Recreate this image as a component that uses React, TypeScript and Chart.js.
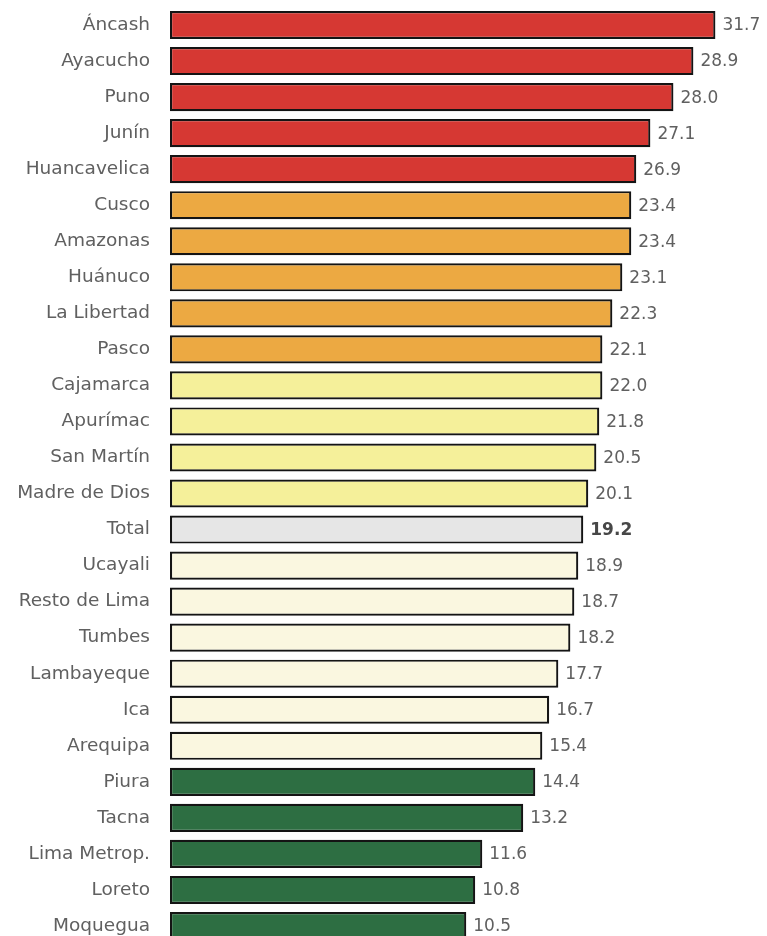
import React, { useEffect, useRef } from "react";
import { Chart, registerables } from "chart.js";

Chart.register(...registerables);

const regions: string[] = [
  "Áncash", "Ayacucho", "Puno", "Junín", "Huancavelica", "Cusco", "Amazonas",
  "Huánuco", "La Libertad", "Pasco", "Cajamarca", "Apurímac", "San Martín",
  "Madre de Dios", "Total", "Ucayali", "Resto de Lima", "Tumbes", "Lambayeque",
  "Ica", "Arequipa", "Piura", "Tacna", "Lima Metrop.", "Loreto", "Moquegua",
];

// Printed values (labels at the end of each bar)
const valueLabels: string[] = [
  "31.7", "28.9", "28.0", "27.1", "26.9", "23.4", "23.4", "23.1", "22.3", "22.1",
  "22.0", "21.8", "20.5", "20.1", "19.2", "18.9", "18.7", "18.2", "17.7", "16.7",
  "15.4", "14.4", "13.2", "11.6", "10.8", "10.5",
];

// Bar lengths as drawn in the picture (in the unit of the top bar, 31.7)
const barLengths: number[] = [
  31.7, 30.42, 29.26, 27.92, 27.1, 26.81, 26.81, 26.29, 25.71, 25.13,
  25.13, 24.95, 24.78, 24.31, 24.02, 23.73, 23.5, 23.27, 22.57, 22.04,
  21.64, 21.23, 20.53, 18.15, 17.74, 17.22,
];

// Colour group of each bar
const groups: string[] = [
  "high", "high", "high", "high", "high",
  "mid", "mid", "mid", "mid", "mid",
  "low", "low", "low", "low",
  "total",
  "lower", "lower", "lower", "lower", "lower", "lower",
  "lowest", "lowest", "lowest", "lowest", "lowest",
];

const groupColors: Record<string, string> = {
  high: "#D63833",
  mid: "#ECA942",
  low: "#F5F09A",
  total: "#E6E6E6",
  lower: "#FAF7E0",
  lowest: "#2D6E42",
};

const FONT = "'DejaVu Sans', sans-serif";

export default function App() {
  const ref = useRef<HTMLCanvasElement | null>(null);

  useEffect(() => {
    if (!ref.current) return;
    const valueLabelPlugin = {
      id: "valueLabels",
      afterDatasetsDraw(chart: any) {
        const ctx = chart.ctx;
        const meta = chart.getDatasetMeta(0);
        ctx.save();
        ctx.textBaseline = "middle";
        ctx.textAlign = "left";
        meta.data.forEach((bar: any, i: number) => {
          const isTotal = regions[i] === "Total";
          ctx.font = `${isTotal ? "bold " : ""}17px ${FONT}`;
          ctx.fillStyle = isTotal ? "#474747" : "#606060";
          ctx.fillText(valueLabels[i], bar.x + 7, bar.y + 1);
        });
        ctx.restore();
      },
    };

    const chart = new Chart(ref.current, {
      type: "bar",
      data: {
        labels: regions,
        datasets: [
          {
            data: barLengths,
            backgroundColor: groups.map((g) => groupColors[g]),
            borderColor: "#141414",
            borderWidth: 2.2,
            borderSkipped: false,
            categoryPercentage: 1,
            barPercentage: 0.78,
          },
        ],
      },
      options: {
        indexAxis: "y",
        animation: false,
        responsive: false,
        maintainAspectRatio: false,
        layout: { padding: { top: 7, right: 12, bottom: 0, left: 0 } },
        plugins: {
          legend: { display: false },
          tooltip: { enabled: false },
        },
        scales: {
          x: {
            display: false,
            min: 0,
            max: 34,
          },
          y: {
            grid: { display: false, drawTicks: false },
            border: { display: false },
            ticks: {
              color: "#606060",
              padding: 20,
              font: { family: FONT, size: 18.5 },
            },
            afterFit: (s: any) => {
              s.width = 170;
              s.paddingTop = 0;
              s.paddingBottom = 0;
            },
          },
        },
      },
      plugins: [valueLabelPlugin],
    });
    return () => chart.destroy();
  }, []);

  return (
    <div style={{ position: "absolute", left: 0, top: 0, width: 767, height: 944, background: "#fff" }}>
      <canvas ref={ref} width={767} height={944} style={{ display: "block", width: 767, height: 944 }} />
    </div>
  );
}
